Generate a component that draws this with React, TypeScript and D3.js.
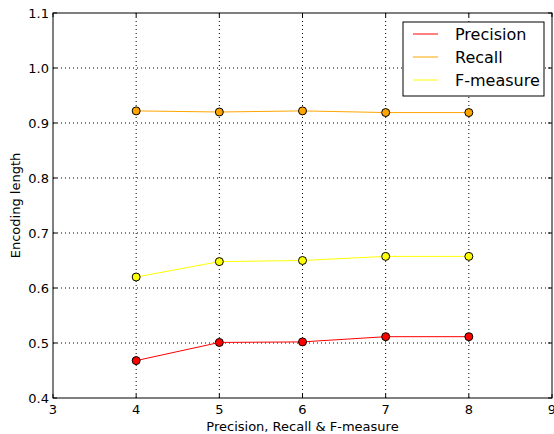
import React from "react";
import * as d3 from "d3";

const xs = [4, 5, 6, 7, 8];
const precision = [0.468, 0.501, 0.502, 0.5115, 0.5115];
const recall = [0.922, 0.920, 0.922, 0.919, 0.919];
const fmeasure = [0.620, 0.648, 0.650, 0.6575, 0.6575];
const xTicks = [3, 4, 5, 6, 7, 8, 9];
const yTicks = [0.4, 0.5, 0.6, 0.7, 0.8, 0.9, 1.0, 1.1];

const series = [
  { name: "Precision", values: precision, color: "#ff0000" },
  { name: "Recall", values: recall, color: "#ffa500" },
  { name: "F-measure", values: fmeasure, color: "#ffff00" },
];

const W = 554, H = 434;
const L = 53, R = 552, T = 13, B = 398;
const font = "DejaVu Sans, sans-serif";

export default function App() {
  const x = d3.scaleLinear().domain([3, 9]).range([L, R]);
  const y = d3.scaleLinear().domain([0.4, 1.1]).range([B, T]);
  const line = d3.line<number>().x((_, i) => x(xs[i])).y((d) => y(d));
  return (
    <div style={{ position: "absolute", left: 0, top: 0 }}>
      <svg width={W} height={H} style={{ display: "block", background: "#fff" }}>
        {/* grid */}
        {xTicks.slice(1, -1).map((t) => (
          <line key={"gx" + t} x1={x(t)} x2={x(t)} y1={T} y2={B} stroke="#000" strokeWidth={1} strokeDasharray="1,3" />
        ))}
        {yTicks.slice(1, -1).map((t) => (
          <line key={"gy" + t} x1={L} x2={R} y1={y(t)} y2={y(t)} stroke="#000" strokeWidth={1} strokeDasharray="1,3" />
        ))}
        {/* ticks */}
        {xTicks.map((t) => (
          <g key={"tx" + t}>
            <line x1={x(t)} x2={x(t)} y1={B} y2={B - 4} stroke="#000" />
            <line x1={x(t)} x2={x(t)} y1={T} y2={T + 4} stroke="#000" />
            <text x={x(t)} y={B + 16} textAnchor="middle" fontFamily={font} fontSize={13}>{t}</text>
          </g>
        ))}
        {yTicks.map((t) => (
          <g key={"ty" + t}>
            <line x1={L} x2={L + 4} y1={y(t)} y2={y(t)} stroke="#000" />
            <line x1={R} x2={R - 4} y1={y(t)} y2={y(t)} stroke="#000" />
            <text x={L - 4} y={y(t) + 4.5} textAnchor="end" fontFamily={font} fontSize={13}>{t.toFixed(1)}</text>
          </g>
        ))}
        {/* lines */}
        {series.map((s) => (
          <g key={s.name}>
            <path d={line(s.values) || ""} fill="none" stroke={s.color} strokeWidth={1} />
            {s.values.map((v, i) => (
              <circle key={i} cx={x(xs[i])} cy={y(v)} r={4} fill={s.color} stroke="#000" strokeWidth={1} />
            ))}
          </g>
        ))}
        {/* frame */}
        <rect x={L} y={T} width={R - L} height={B - T} fill="none" stroke="#000" strokeWidth={1} />
        {/* legend */}
        <g>
          <rect x={403} y={22} width={141} height={74} fill="#fff" stroke="#000" strokeWidth={1} />
          {series.map((s, i) => (
            <g key={"lg" + s.name}>
              <line x1={413} x2={438} y1={34 + i * 23} y2={34 + i * 23} stroke={s.color} strokeWidth={1} />
              <text x={455} y={34 + i * 23 + 5.5} fontFamily={font} fontSize={16}>{s.name}</text>
            </g>
          ))}
        </g>
        {/* axis labels */}
        <text x={(L + R) / 2} y={431} textAnchor="middle" fontFamily={font} fontSize={13}>Precision, Recall &amp; F-measure</text>
        <text transform={`translate(20,${(T + B) / 2}) rotate(-90)`} textAnchor="middle" fontFamily={font} fontSize={13}>Encoding length</text>
      </svg>
    </div>
  );
}
